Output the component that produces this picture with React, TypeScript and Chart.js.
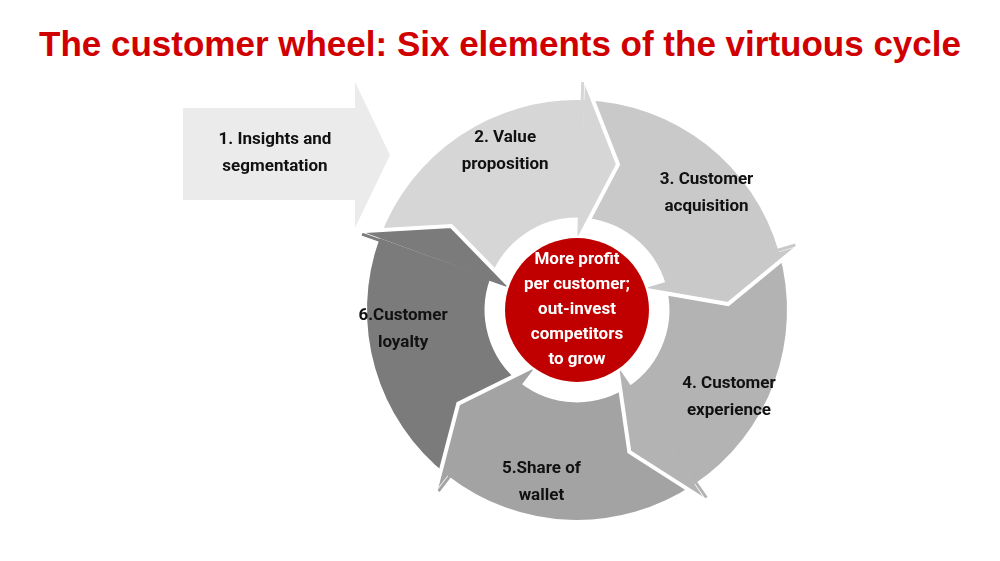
import { Chart, registerables } from "chart.js";
import { useEffect, useRef } from "react";

Chart.register(...registerables);

const TITLE = "The customer wheel: Six elements of the virtuous cycle";
const STEPS = [
  ["2. Value", "proposition"],
  ["3. Customer", "acquisition"],
  ["4. Customer", "experience"],
  ["5.Share of", "wallet"],
  ["6.Customer", "loyalty"],
];
const STEP_SIZES = [1, 1, 1, 1, 1];
const STEP_COLORS = ["#d6d6d6", "#c9c9c9", "#b3b3b3", "#a3a3a3", "#7b7b7b"];
const FIRST_STEP = ["1. Insights and", "segmentation"];
const CENTER_TEXT = ["More profit", "per customer;", "out-invest", "competitors", "to grow"];

const FONT = "bold 17px 'Liberation Sans Narrow', 'Roboto', sans-serif";

const wheelPlugin = {
  id: "wheel",
  beforeDatasetsDraw(chart: any) {
    const arc = chart.getDatasetMeta(0).data[0];
    const { x, y } = arc;
    const ctx = chart.ctx;
    ctx.save();
    // left input arrow
    ctx.fillStyle = "#ebebeb";
    ctx.beginPath();
    ctx.moveTo(x - 394, y - 202);
    ctx.lineTo(x - 222, y - 202);
    ctx.lineTo(x - 222, y - 228);
    ctx.lineTo(x - 187, y - 155);
    ctx.lineTo(x - 222, y - 82);
    ctx.lineTo(x - 222, y - 110);
    ctx.lineTo(x - 394, y - 110);
    ctx.closePath();
    ctx.fill();
    ctx.fillStyle = "#111";
    ctx.font = FONT;
    ctx.textAlign = "center";
    ctx.textBaseline = "middle";
    FIRST_STEP.forEach((t, i) => ctx.fillText(t, x - 302, y - 170 + i * 27));
    ctx.restore();
  },
  afterDatasetsDraw(chart: any) {
    const arcs = chart.getDatasetMeta(0).data;
    const ctx = chart.ctx;
    ctx.save();
    arcs.forEach((a: any, i: number) => {
      const { x, y, endAngle, innerRadius: ri, outerRadius: ro } = a;
      const mid = (ri + ro) / 2;
      const tipA = endAngle + 0.24;
      const p = (r: number, ang: number) => [x + r * Math.cos(ang), y + r * Math.sin(ang)];
      const b1 = p(ri - 20, endAngle);
      const b2 = p(ro + 20, endAngle);
      const tip = p(mid, tipA);
      ctx.fillStyle = STEP_COLORS[i];
      ctx.beginPath();
      ctx.moveTo(b1[0], b1[1]);
      ctx.lineTo(b2[0], b2[1]);
      ctx.lineTo(tip[0], tip[1]);
      ctx.closePath();
      ctx.fill();
      // cover the seam with base colour
      ctx.strokeStyle = STEP_COLORS[i];
      ctx.lineWidth = 3;
      const s1 = p(ri - 18, endAngle - 0.01);
      const s2 = p(ro + 18, endAngle - 0.01);
      ctx.beginPath();
      ctx.moveTo(s1[0], s1[1]);
      ctx.lineTo(s2[0], s2[1]);
      ctx.stroke();
      ctx.strokeStyle = "#fff";
      ctx.lineWidth = 4;
      ctx.beginPath();
      ctx.moveTo(b2[0], b2[1]);
      ctx.lineTo(tip[0], tip[1]);
      ctx.lineTo(b1[0], b1[1]);
      ctx.stroke();
    });
    // labels
    ctx.fillStyle = "#111";
    ctx.font = FONT;
    ctx.textAlign = "center";
    ctx.textBaseline = "middle";
    arcs.forEach((a: any, i: number) => {
      const ang = (a.startAngle + a.endAngle) / 2 + 0.17;
      const lx = a.x + 175 * Math.cos(ang);
      const ly = a.y + 175 * Math.sin(ang);
      STEPS[i].forEach((t, j) => ctx.fillText(t, lx, ly - 13 + j * 27));
    });
    // centre
    const c = arcs[0];
    ctx.fillStyle = "#c00000";
    ctx.beginPath();
    ctx.arc(c.x, c.y, 72, 0, Math.PI * 2);
    ctx.fill();
    ctx.fillStyle = "#fff";
    CENTER_TEXT.forEach((t, j) => ctx.fillText(t, c.x, c.y - 50 + j * 25));
    ctx.restore();
  },
};

const App = () => {
  const canvasRef = useRef<HTMLCanvasElement>(null);

  useEffect(() => {
    const ctx = canvasRef.current?.getContext("2d");
    if (!ctx) return;
    const chart = new Chart(ctx, {
      type: "doughnut",
      data: {
        labels: STEPS.map((s) => s.join(" ")),
        datasets: [
          {
            data: STEP_SIZES,
            backgroundColor: STEP_COLORS,
            borderWidth: 0,
          },
        ],
      },
      options: {
        animation: false,
        responsive: false,
        rotation: -70,
        cutout: "44%",
        layout: { padding: { left: 367, right: 213, top: 100, bottom: 41 } },
        plugins: { legend: { display: false }, tooltip: { enabled: false } },
      },
      plugins: [wheelPlugin],
    });
    return () => {
      chart.destroy();
    };
  }, []);

  return (
    <div style={{ position: "fixed", left: 0, top: 0, width: 1000, height: 561, background: "#fff" }}>
      <div
        style={{
          position: "absolute",
          top: 24,
          width: 1000,
          textAlign: "center",
          color: "#d00000",
          font: "900 35px 'Liberation Sans', Arial, sans-serif",
        }}
      >
        {TITLE}
      </div>
      <canvas ref={canvasRef} width={1000} height={561} style={{ position: "absolute", left: 0, top: 0 }}></canvas>
    </div>
  );
};

export default App;
